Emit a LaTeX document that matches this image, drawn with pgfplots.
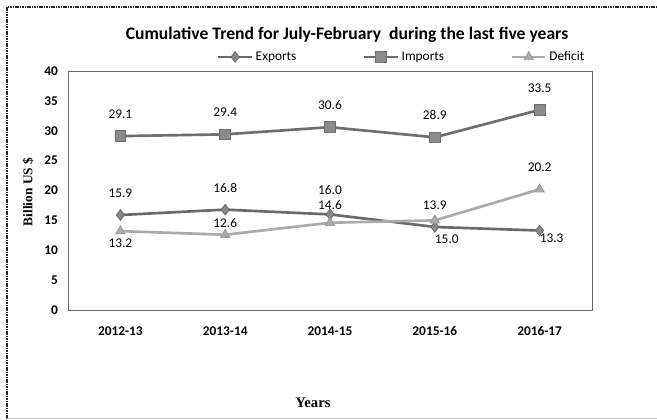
\documentclass[border=0pt]{standalone}
\usepackage{pgfplots}
\pgfplotsset{compat=1.18}
\usepackage{fontspec}
\setmainfont{Carlito}
\newfontfamily\timesfont{Liberation Serif}
\definecolor{expc}{HTML}{6A6A6A}
\definecolor{impc}{HTML}{6E6E6E}
\definecolor{defc}{HTML}{ABABAB}
\begin{document}
\begin{tikzpicture}
\path[use as bounding box] (0pt,0pt) rectangle (492.75pt,314.25pt);
\draw[line width=1.6pt, black!85, dash pattern=on 1.2pt off 0.6pt] (5.25pt,0pt) -- (5.25pt,309pt) -- (492.75pt,309pt);
\draw[line width=0.8pt, black!20] (5.25pt,0.5pt) -- (492.75pt,0.5pt);
\begin{axis}[
  at={(51pt,81.75pt)}, anchor=south west,
  scale only axis, width=393pt, height=179.25pt,
  xmin=-0.5, xmax=4.5, ymin=0, ymax=40,
  xtick={0,1,2,3,4},
  xticklabels={2012-13,2013-14,2014-15,2015-16,2016-17},
  ytick={0,5,...,40},
  major tick length=0pt,
  axis line style={black!60, line width=0.5pt},
  tick label style={font=\bfseries\fontsize{10}{12}\selectfont},
  /pgf/number format/assume math mode=true,
  xticklabel style={yshift=-9pt},
  yticklabel style={xshift=-4pt},
  legend style={at={(0.284,1.0586)}, anchor=west, draw=none, fill=none, inner sep=0pt,
    font=\fontsize{10}{12}\selectfont,
    /tikz/every even column/.append style={column sep=48pt}},
  legend columns=3,
  legend image code/.code={\draw[mark repeat=2,mark phase=2] plot coordinates {(0pt,0pt)(12.5pt,0pt)(25pt,0pt)};},
  clip=false,
]
\addplot[color=expc, line width=2pt, mark=diamond*, mark size=4pt, mark options={fill=expc!80, draw=expc, line width=0.6pt}]
  coordinates {(0,15.9) (1,16.8) (2,16.0) (3,13.9) (4,13.3)};
\addlegendentry{Exports}
\addplot[color=impc, line width=2pt, mark=square*, mark size=4pt, mark options={fill=impc!80, draw=impc, line width=0.6pt}]
  coordinates {(0,29.1) (1,29.4) (2,30.6) (3,28.9) (4,33.5)};
\addlegendentry{Imports}
\addplot[color=defc, line width=2pt, mark=triangle*, mark size=4pt, mark options={fill=defc, draw=defc!90!black, line width=0.6pt}]
  coordinates {(0,13.2) (1,12.6) (2,14.6) (3,15.0) (4,20.2)};
\addlegendentry{Deficit}
\begin{scope}[every node/.style={font=\fontsize{10}{12}\selectfont, inner sep=0pt}]
\node at ([yshift=16.5pt]axis cs:0,29.1) {29.1};
\node at ([yshift=16.5pt]axis cs:1,29.4) {29.4};
\node at ([yshift=16.5pt]axis cs:2,30.6) {30.6};
\node at ([yshift=16.5pt]axis cs:3,28.9) {28.9};
\node at ([yshift=16.5pt]axis cs:4,33.5) {33.5};
\node at ([yshift=16.5pt]axis cs:0,15.9) {15.9};
\node at ([yshift=16.5pt]axis cs:1,16.8) {16.8};
\node at ([yshift=18pt]axis cs:2,16.0) {16.0};
\node at ([yshift=16.5pt]axis cs:3,13.9) {13.9};
\node at ([xshift=9pt,yshift=-6pt]axis cs:4,13.3) {13.3};
\node at ([yshift=-9pt]axis cs:0,13.2) {13.2};
\node at ([yshift=9pt]axis cs:1,12.6) {12.6};
\node at ([yshift=13.5pt]axis cs:2,14.6) {14.6};
\node at ([xshift=9pt,yshift=-14pt]axis cs:3,15.0) {15.0};
\node at ([yshift=16.5pt]axis cs:4,20.2) {20.2};
\end{scope}
\end{axis}
\node[font=\bfseries\fontsize{13.2}{15}\selectfont] at (260.25pt,288pt) {Cumulative Trend for July-February\ \ during the last five years};
\node[font=\timesfont\bfseries\fontsize{11}{13}\selectfont] at (234.75pt,12pt) {Years};
\node[font=\timesfont\bfseries\fontsize{10}{12}\selectfont, rotate=90] at (21pt,170.25pt) {Billion US \$};
\end{tikzpicture}
\end{document}
